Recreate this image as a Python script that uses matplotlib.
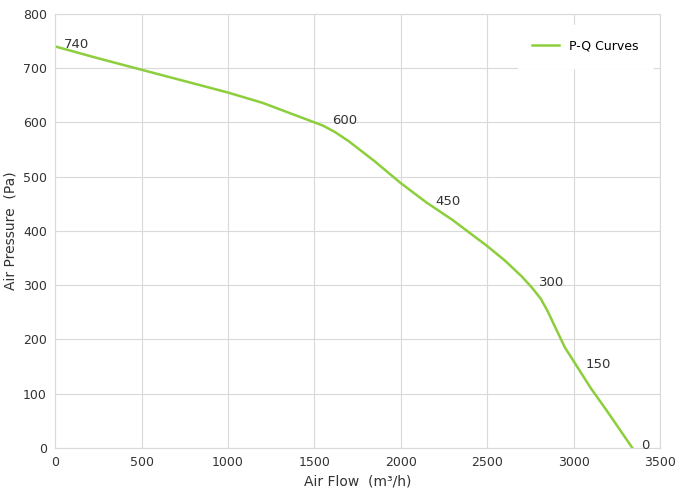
import matplotlib
matplotlib.use("Agg")
import matplotlib.pyplot as plt

# curve
flow = [0, 250, 500, 750, 1000, 1200, 1350, 1450, 1550, 1620, 1700, 1850, 2000,
        2150, 2300, 2500, 2600, 2700, 2760, 2810, 2850, 2890, 2950, 3020, 3100,
        3200, 3340]
pressure = [740, 718, 697, 676, 655, 636, 618, 606, 594, 582, 565, 528, 488,
            452, 420, 372, 346, 316, 295, 275, 252, 225, 185, 150, 110, 65, 0]

label_flow = [0, 1550, 2150, 2750, 3020, 3340]
label_pres = [740, 600, 450, 300, 150, 0]

green = "#8cce3c"

fig, ax = plt.subplots(figsize=(6.91, 4.97), dpi=100)
fig.subplots_adjust(left=0.08, right=0.955, top=0.972, bottom=0.099)

ax.plot(flow, pressure, color=green, lw=1.8, label="P-Q Curves")
for fx, p in zip(label_flow, label_pres):
    ax.text(fx + 50, p + 4, str(p), fontsize=9.5, color="#333333",
            ha="left", va="center")

ax.set_xlim(0, 3500)
ax.set_ylim(0, 800)
ax.set_xticks(range(0, 3501, 500))
ax.set_yticks(range(0, 801, 100))
ax.grid(True, color="#d9d9d9", lw=0.8)
for s in ax.spines.values():
    s.set_color("#d9d9d9")
ax.tick_params(length=0, labelsize=9, colors="#333333", pad=6)
ax.set_xlabel("Air Flow  (m³/h)", fontsize=10, color="#333333")
ax.set_ylabel("Air Pressure  (Pa)", fontsize=10, color="#333333")

leg = ax.legend(loc="upper right", frameon=True, fontsize=9,
                bbox_to_anchor=(1.0, 0.99), borderpad=1.2, handlelength=2.2)
leg.get_frame().set_edgecolor("white")
leg.get_frame().set_facecolor("white")
leg.get_frame().set_alpha(1)

fig.savefig("out.png")
